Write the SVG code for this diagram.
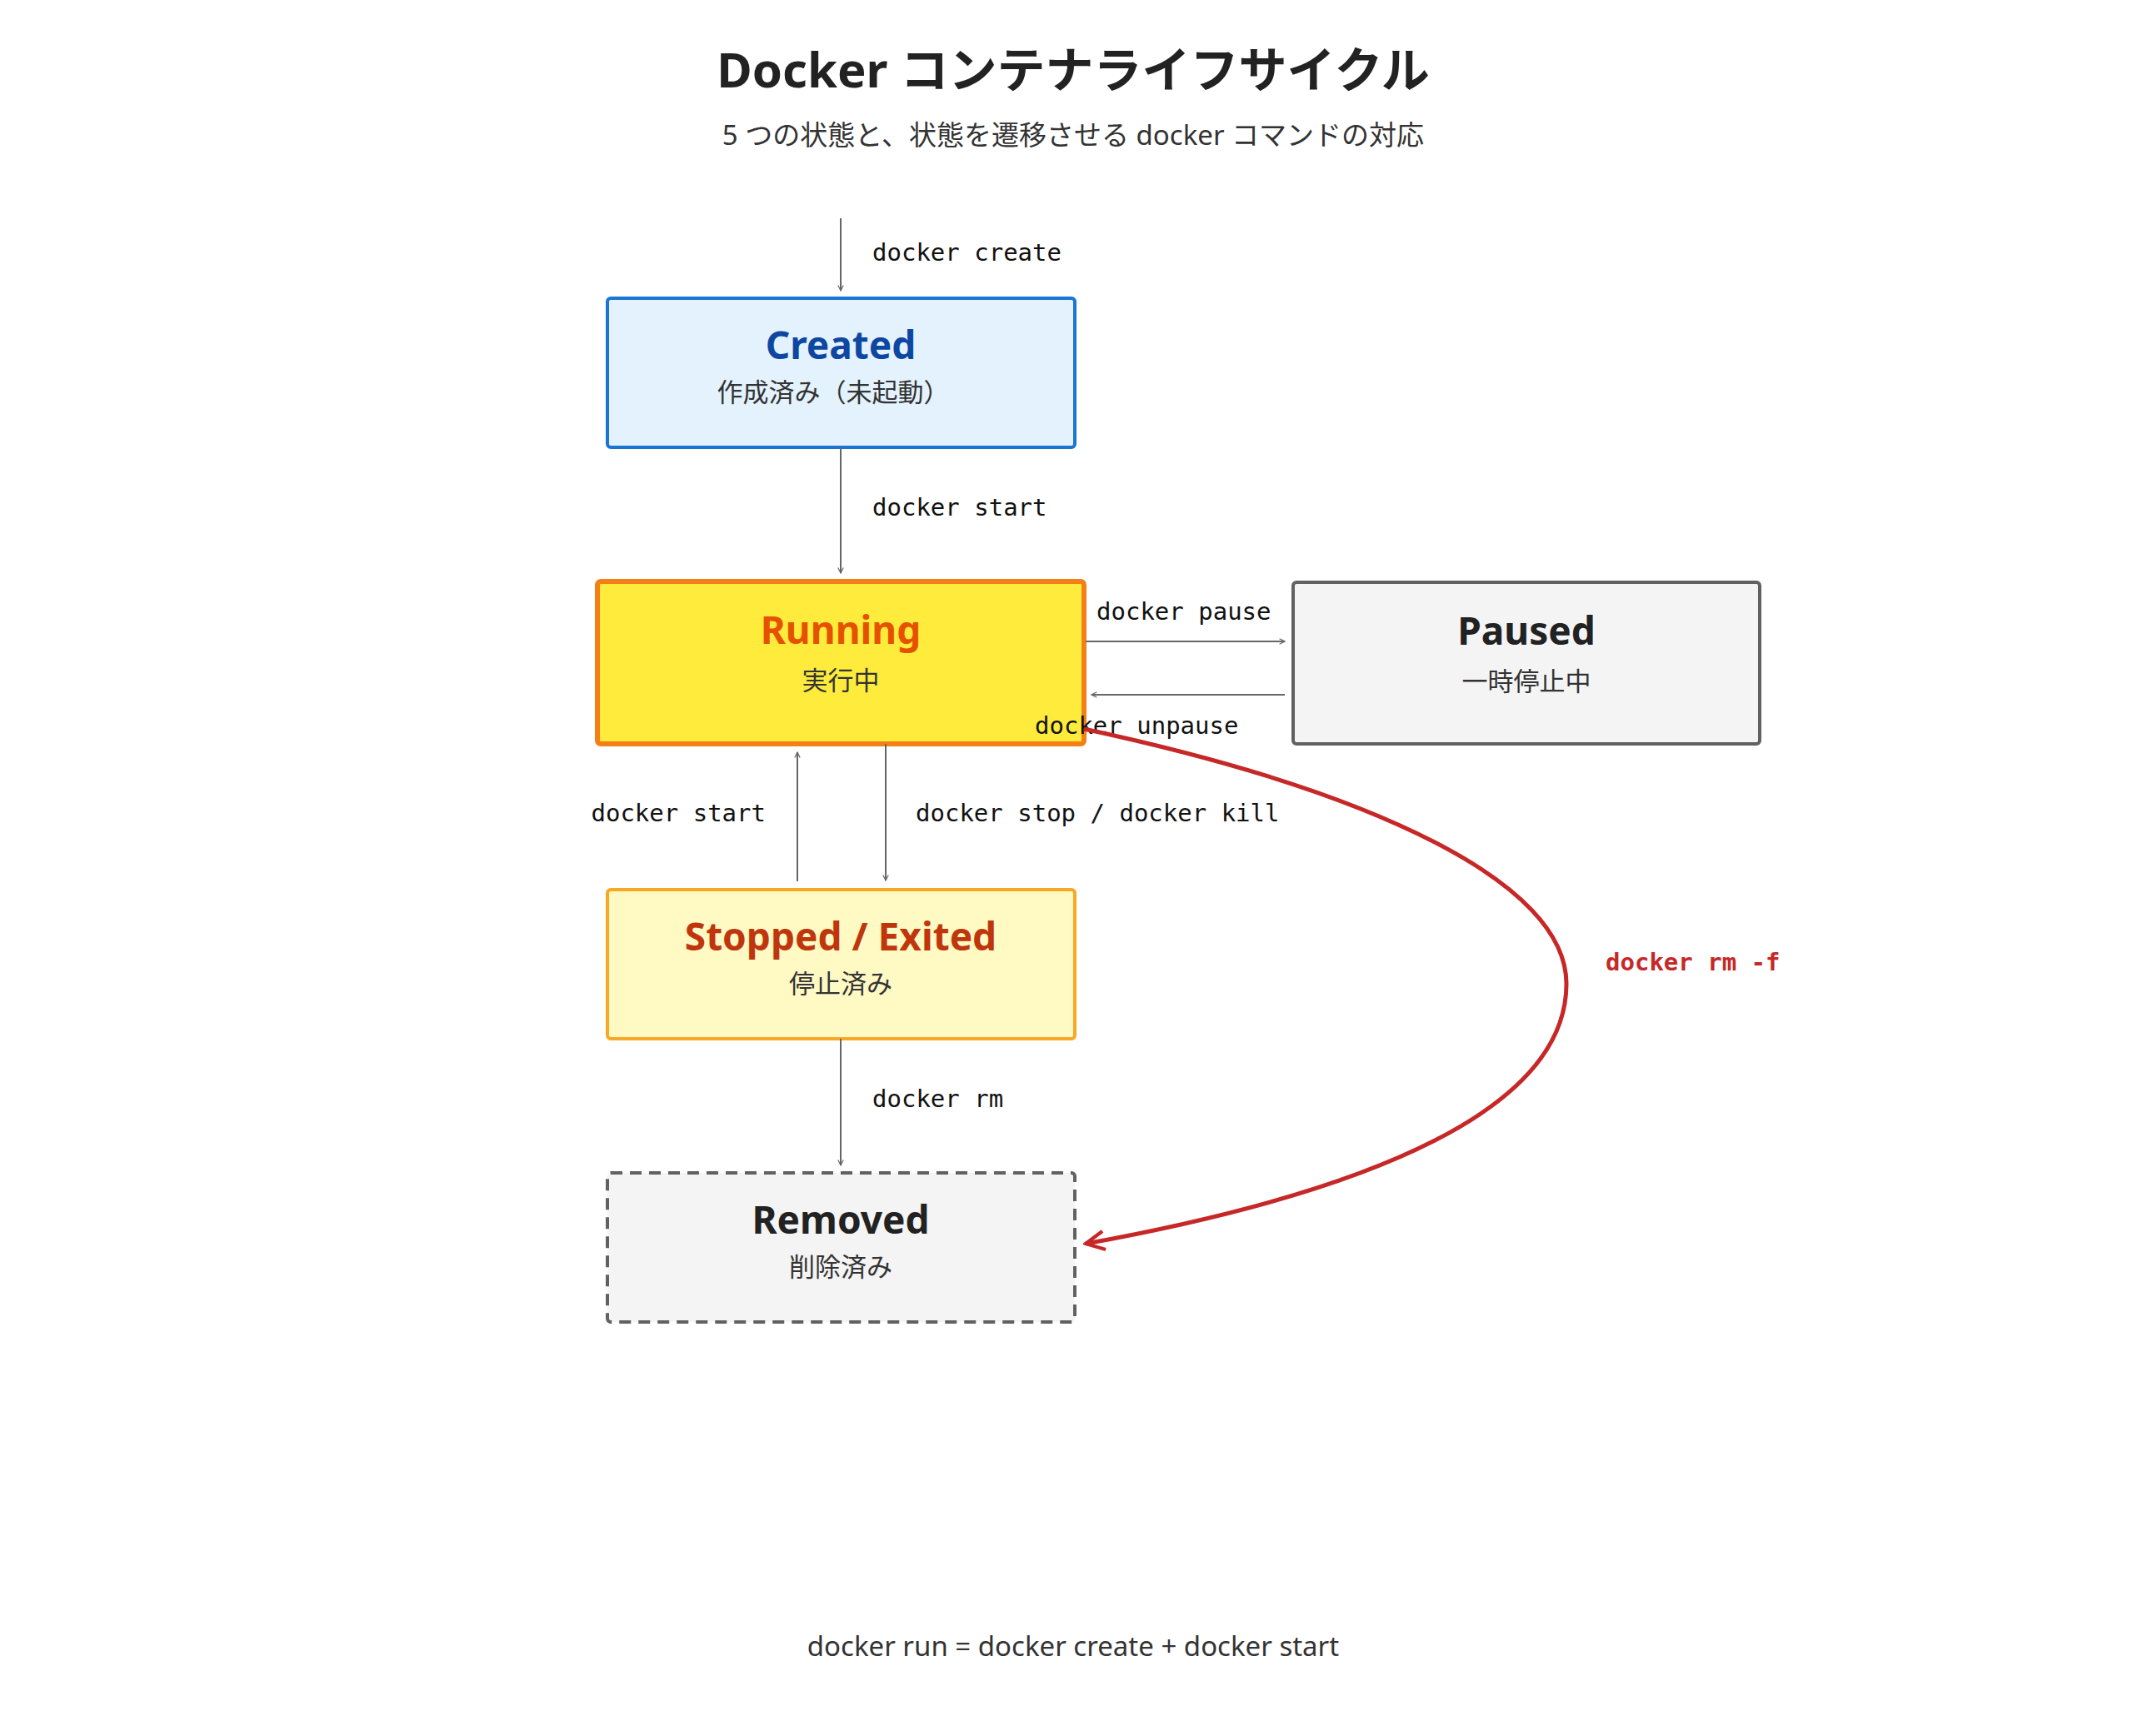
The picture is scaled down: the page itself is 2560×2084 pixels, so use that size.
<svg xmlns="http://www.w3.org/2000/svg" width="2560" height="2084" viewBox="0 0 2560 2084">
<style>
.t{font-family:"Noto Sans","Noto Sans CJK JP",sans-serif;text-anchor:middle}
.h{font-weight:700;font-size:46px}
.s{font-size:31px;fill:#333}
.m{font-family:"DejaVu Sans Mono","Liberation Mono",monospace;font-size:29px;fill:#111}
.c{stroke:#666;stroke-width:2;fill:none;marker-end:url(#a)}
</style>
<defs>
<marker id="a" viewBox="0 0 10 10" refX="9" refY="5" markerWidth="8" markerHeight="8" orient="auto-start-reverse" markerUnits="userSpaceOnUse"><path d="M1,1 L9,5 L1,9" fill="none" stroke="#666" stroke-width="1.5"/></marker>
<marker id="r" viewBox="0 0 10 10" refX="9" refY="5" markerWidth="28" markerHeight="28" orient="auto" markerUnits="userSpaceOnUse"><path d="M1,1 L9,5 L1,9" fill="none" stroke="#c62828" stroke-width="1.5"/></marker>
</defs>
<rect width="2560" height="2084" fill="#fff"/>
<text class="t" x="1288" y="105" font-size="58" font-weight="700" fill="#222">Docker コンテナライフサイクル</text>
<text class="t" x="1288" y="174" font-size="33" fill="#333">5 つの状態と、状態を遷移させる docker コマンドの対応</text>
<g id="created"><rect x="729" y="358" width="561" height="179" rx="4" fill="#e3f2fd" stroke="#1976d2" stroke-width="4"/><text class="t h" x="1009" y="431" fill="#0d47a1">Created</text><text class="t s" x="1000" y="482">作成済み（未起動）</text></g>
<g id="running"><rect x="717" y="698" width="584" height="195" rx="4" fill="#ffeb3b" stroke="#f57f17" stroke-width="6"/><text class="t h" x="1009" y="773" fill="#e65100">Running</text><text class="t s" x="1009" y="828">実行中</text></g>
<g id="paused"><rect x="1552" y="699" width="560" height="194" rx="4" fill="#f4f4f4" stroke="#616161" stroke-width="4"/><text class="t h" x="1832" y="774" fill="#222">Paused</text><text class="t s" x="1832" y="829">一時停止中</text></g>
<g id="stopped"><rect x="729" y="1068" width="561" height="179" rx="4" fill="#fff9c4" stroke="#f9a825" stroke-width="4"/><text class="t h" x="1009" y="1141" fill="#bf360c">Stopped / Exited</text><text class="t s" x="1009" y="1192">停止済み</text></g>
<g id="removed"><rect x="729" y="1408" width="561" height="179" rx="4" fill="#f4f4f4" stroke="#616161" stroke-width="4" stroke-dasharray="14 9"/><text class="t h" x="1009" y="1481" fill="#222">Removed</text><text class="t s" x="1009" y="1532">削除済み</text></g>
<g id="connectors">
<path class="c" d="M1009,262 V349"/>
<text class="m" x="1047" y="313">docker create</text>
<path class="c" d="M1009,537 V688"/>
<text class="m" x="1047" y="619">docker start</text>
<path class="c" d="M1303,770 H1542"/>
<text class="m" x="1316" y="744">docker pause</text>
<path class="c" d="M1542,834 H1310"/>
<text class="m" x="1242" y="881">docker unpause</text>
<path class="c" d="M957,1058 V903"/>
<text class="m" x="919" y="986" text-anchor="end">docker start</text>
<path class="c" d="M1063,893 V1057"/>
<text class="m" x="1099" y="986">docker stop / docker kill</text>
<path class="c" d="M1009,1247 V1399"/>
<text class="m" x="1047" y="1329">docker rm</text>
<path d="M1301,875 C1650,950 1880,1060 1880,1181 C1880,1330 1650,1430 1303,1493" fill="none" stroke="#c62828" stroke-width="5" marker-end="url(#r)"/>
<text class="m" x="1927" y="1165" fill="#c62828" font-weight="700" style="fill:#c62828">docker rm -f</text>
</g>
<text class="t" x="1288" y="1988" font-size="33" fill="#333">docker run = docker create + docker start</text>
</svg>
